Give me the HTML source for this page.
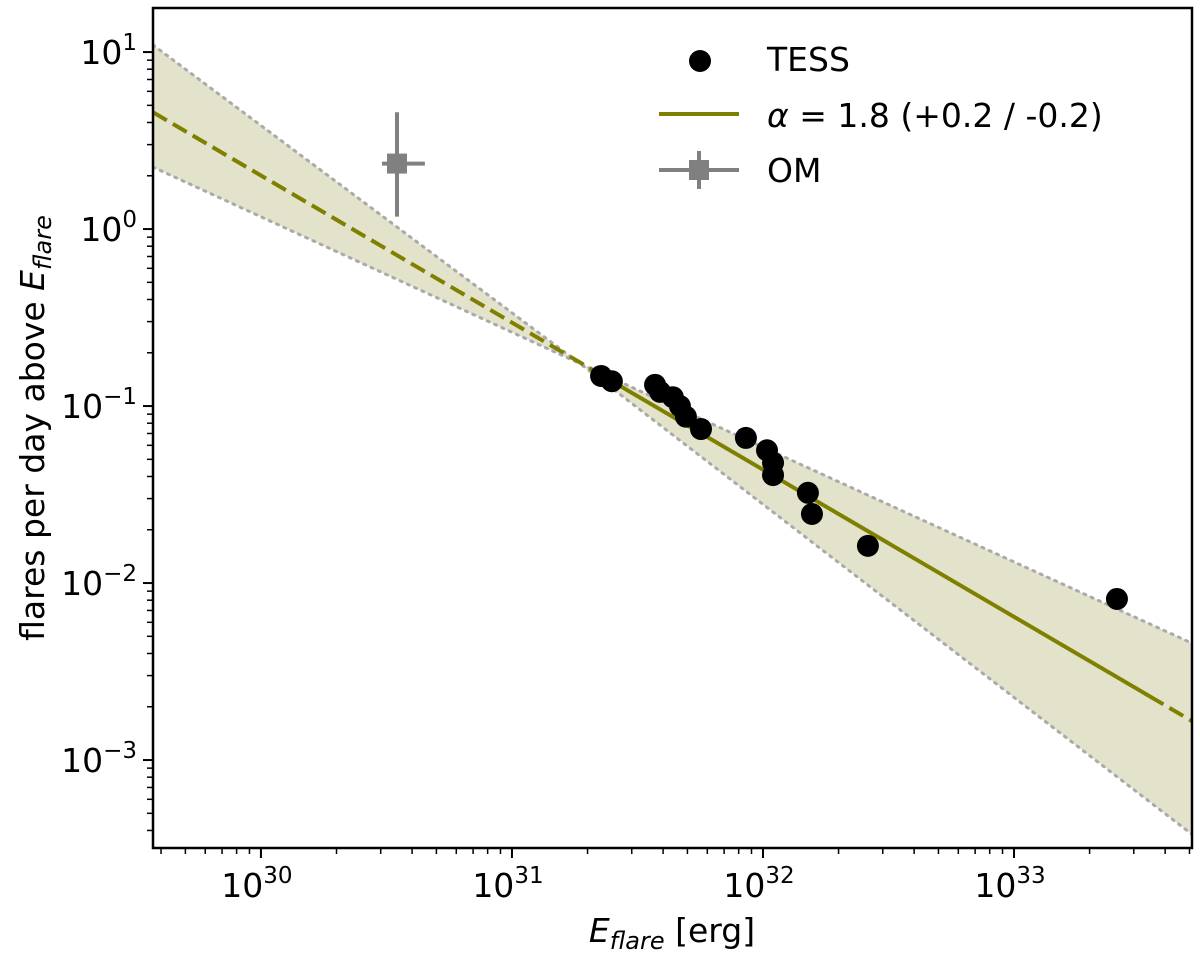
<!DOCTYPE html>
<html><head><meta charset="utf-8"><style>
body{margin:0;background:#fff;}
svg{display:block;font-family:"DejaVu Sans","Liberation Sans",sans-serif;}
</style></head><body>
<svg id="chart" width="1200" height="961" viewBox="0 0 1200 961">
<defs><clipPath id="plotclip"><rect x="153" y="8" width="1039" height="840"/></clipPath></defs>
<g id="plot" clip-path="url(#plotclip)"></g>
<g id="axes"></g>
<g id="legend">
  <circle cx="700" cy="61" r="11" fill="#000"/>
  <text x="767" y="71" font-size="33">TESS</text>
  <line x1="659" y1="114" x2="739" y2="114" stroke="#808000" stroke-width="4"/>
  <text x="767" y="127" font-size="33"><tspan font-style="italic">α</tspan> =  1.8 (+0.2 / -0.2)</text>
  <line x1="659" y1="170" x2="739" y2="170" stroke="#808080" stroke-width="4"/>
  <line x1="699" y1="151" x2="699" y2="189" stroke="#808080" stroke-width="4"/>
  <rect x="689" y="160" width="20" height="20" fill="#808080"/>
  <text x="767" y="182" font-size="33">OM</text>
</g>
</svg>
<script>
const tessLogE = [31.355,31.398,31.570,31.590,31.641,31.669,31.693,31.753,31.932,32.016,32.040,32.040,32.179,32.195,32.418,33.410];
const tessLogF = [-0.83,-0.86,-0.88,-0.92,-0.95,-1.00,-1.06,-1.13,-1.18,-1.25,-1.32,-1.39,-1.49,-1.61,-1.79,-2.09];
const omLogE = 30.542, omLogF = 0.37, omLogFLo = 0.07, omLogFHi = 0.66, omLogELo = 30.482, omLogEHi = 30.653;
const fitLogE = [29.570, 33.709];
const fitLogF = [0.66, -2.78];
const bandUpper = [1.04, -2.34];
const bandLower = [0.35, -3.42];
const pivot = [31.271, -0.76];
const solidRange = [31.33, 33.54];
const xTickExp = [30,31,32,33];
const yTickExp = [1,0,-1,-2,-3];

const L=153,R=1192,T=8,B=848, xMin=29.570,xMax=33.709,yMin=-3.497,yMax=1.249;
const X=v=>L+(v-xMin)/(xMax-xMin)*(R-L);
const Y=v=>B-(v-yMin)/(yMax-yMin)*(B-T);
const NS="http://www.w3.org/2000/svg";
function mk(tag,attrs,parent){const e=document.createElementNS(NS,tag);for(const k in attrs)e.setAttribute(k,attrs[k]);parent.appendChild(e);return e;}
const plot=document.getElementById('plot'), axes=document.getElementById('axes');
const lineAt=(arr,v)=>{ // piecewise through pivot
  if(v<=pivot[0]) return arr[0]+(v-xMin)*(pivot[1]-arr[0])/(pivot[0]-xMin);
  return pivot[1]+(v-pivot[0])*(arr[1]-pivot[1])/(xMax-pivot[0]);
};
const fitAt=v=>fitLogF[0]+(v-fitLogE[0])*(fitLogF[1]-fitLogF[0])/(fitLogE[1]-fitLogE[0]);

const band=mk('polygon',{points:`${X(xMin)},${Y(bandUpper[0])} ${X(pivot[0])},${Y(pivot[1])} ${X(xMax)},${Y(bandUpper[1])} ${X(xMax)},${Y(bandLower[1])} ${X(pivot[0])},${Y(pivot[1])} ${X(xMin)},${Y(bandLower[0])}`,fill:'#e3e3cb',stroke:'none'},plot);


[[bandUpper[0],bandLower[1]],[bandLower[0],bandUpper[1]]].forEach((b,i)=>{
  const p=mk('polyline',{points:`${X(xMin)},${Y(b[0])} ${X(pivot[0])},${Y(pivot[1])} ${X(xMax)},${Y(b[1])}`,fill:'none',stroke:'#aaa','stroke-width':3,'stroke-dasharray':'2 6','stroke-linecap':'round'},plot);
  
  
});
const d1=mk('line',{x1:X(xMin),y1:Y(fitAt(xMin)),x2:X(solidRange[0]),y2:Y(fitAt(solidRange[0])),stroke:'#808000','stroke-width':4,'stroke-dasharray':'16 7'},plot);


const s=mk('line',{x1:X(solidRange[0]),y1:Y(fitAt(solidRange[0])),x2:X(solidRange[1]),y2:Y(fitAt(solidRange[1])),stroke:'#808000','stroke-width':4},plot);


const d2=mk('line',{x1:X(solidRange[1]),y1:Y(fitAt(solidRange[1])),x2:X(xMax),y2:Y(fitAt(xMax)),stroke:'#808000','stroke-width':4,'stroke-dasharray':'16 7'},plot);


tessLogE.forEach((e,i)=>{
  const c=mk('circle',{cx:X(e),cy:Y(tessLogF[i]),r:11,fill:'#000'},plot);
  
  
});
const ov=mk('line',{x1:X(omLogE),y1:Y(omLogFHi),x2:X(omLogE),y2:Y(omLogFLo),stroke:'#808080','stroke-width':4},plot);


const oh=mk('line',{x1:X(omLogELo),y1:Y(omLogF),x2:X(omLogEHi),y2:Y(omLogF),stroke:'#808080','stroke-width':4},plot);


const om=mk('rect',{x:X(omLogE)-10,y:Y(omLogF)-10,width:20,height:20,fill:'#808080'},plot);



const fr=mk('rect',{x:L,y:T,width:R-L,height:B-T,fill:'none',stroke:'#000','stroke-width':2.5},axes);


for(let d=29;d<=33;d++)for(let m=1;m<10;m++){
  const v=d+Math.log10(m); if(v<xMin||v>xMax)continue;
  const t=mk('line',{x1:X(v),y1:B,x2:X(v),y2:B+(m===1?10:6),stroke:'#000','stroke-width':m===1?2:1.5},axes);
  
  
}
xTickExp.forEach(e=>{
  const t=mk('text',{x:X(e)-4,y:B+49,'font-size':33,'text-anchor':'middle'},axes);
  t.innerHTML=`10<tspan dy="-14" font-size="23">${e}</tspan>`;
  
  
});
for(let d=-4;d<=1;d++)for(let m=1;m<10;m++){
  const v=d+Math.log10(m); if(v<yMin||v>yMax)continue;
  const t=mk('line',{x1:L,y1:Y(v),x2:L-(m===1?10:6),y2:Y(v),stroke:'#000','stroke-width':m===1?2:1.5},axes);
  
  
}
yTickExp.forEach(e=>{
  const t=mk('text',{x:L-16,y:Y(e)+12,'font-size':33,'text-anchor':'end'},axes);
  t.innerHTML=`10<tspan dy="-14" font-size="23">${e<0?'−'+(-e):e}</tspan>`;
  
  
});
const xl=mk('text',{x:672,y:942,'font-size':33,'text-anchor':'middle'},axes);
xl.innerHTML='<tspan font-style="italic">E</tspan><tspan font-style="italic" font-size="24" dy="7">flare</tspan><tspan dy="-7"> [erg]</tspan>';


const yl=mk('text',{x:0,y:0,'font-size':33,'text-anchor':'middle',transform:'translate(44,428) rotate(-90)'},axes);
yl.innerHTML='flares per day above <tspan font-style="italic">E</tspan><tspan font-style="italic" font-size="24" dy="7">flare</tspan>';


</script>
</body></html>
